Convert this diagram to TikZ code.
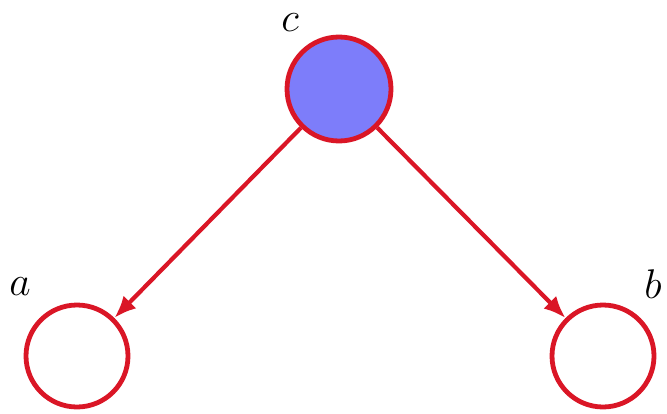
\documentclass[tikz,border=0pt]{standalone}
\usepackage{xcolor}
\usepackage{tikz}
\usetikzlibrary{positioning,arrows.meta,calc}
\definecolor{bnRed}{RGB}{218,22,38}
\definecolor{bnBlue}{RGB}{125,125,250}
\tikzset{
  bn/var/.style={circle, draw=bnRed, line width=2.4pt, minimum size=51pt,
                 inner sep=0pt, fill=white},
  bn/obs/.style={bn/var, fill=bnBlue, minimum size=52pt},
  bn/lbl/.style={font=\huge, inner sep=0pt},
  bn/arrow/.style={-{Latex[length=11pt,width=9pt]}, line width=2.1pt, draw=bnRed},
}
\begin{document}
\begin{tikzpicture}
  \useasboundingbox (0,0) rectangle (333.5pt,206.5pt);

  \node[bn/obs] (c) at (169.5pt,162pt) {};
  \node[bn/var] (a) at (38.5pt,28.5pt) {};
  \node[bn/var] (b) at (301.5pt,28.5pt) {};

  % ---------------- labels ----------------
  \node[bn/lbl] (clbl) at ($(c)+(-24.5pt,33pt)$) {$c$};
  \node[bn/lbl] (albl) at ($(a)+(-28.5pt,34.5pt)$) {$a$};
  \node[bn/lbl] (blbl) at ($(b)+(25pt,36pt)$) {$b$};

  % ---------------- edges ----------------
  \draw[bn/arrow] (c) -- (a);
  \draw[bn/arrow] (c) -- (b);

\end{tikzpicture}
\end{document}
